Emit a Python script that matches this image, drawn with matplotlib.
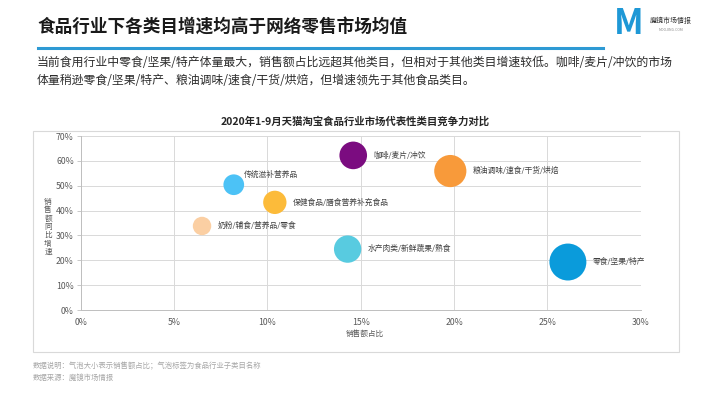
import matplotlib
matplotlib.use('Agg')
from matplotlib import pyplot as plt
from matplotlib.patches import Rectangle
from matplotlib.ticker import FuncFormatter
import numpy as np

plt.rcParams['font.family'] = ['Noto Sans CJK SC', 'DejaVu Sans']

W, H = 710, 399

### Data
categories = ['咖啡/麦片/冲饮', '粮油调味/速食/干货/烘焙', '传统滋补营养品',
              '保健食品/膳食营养补充食品', '奶粉/辅食/营养品/零食',
              '水产肉类/新鲜蔬果/熟食', '零食/坚果/特产']
sales_share = [14.6, 19.8, 8.2, 10.4, 6.5, 14.3, 26.1]      # 销售额占比 (%)
sales_growth = [62.2, 55.9, 50.4, 43.3, 33.8, 24.5, 19.3]   # 销售额同比增速 (%)
x_ticks = [0, 5, 10, 15, 20, 25, 30]
y_ticks = [0, 10, 20, 30, 40, 50, 60, 70]

colors = ['#7B0C80', '#F89A3A', '#4CC2F6', '#FCBB3A', '#FBCFA3', '#58CBE0', '#0A9BDB']
# label nudges in points (dx extra, dy), everything else sits to the right of the bubble
label_nudge = {'传统滋补营养品': (-4.5, 7.0)}

title = '食品行业下各类目增速均高于网络零售市场均值'
para = ['当前食用行业中零食/坚果/特产体量最大，销售额占比远超其他类目，但相对于其他类目增速较低。咖啡/麦片/冲饮的市场',
        '体量稍逊零食/坚果/特产、粮油调味/速食/干货/烘焙，但增速领先于其他食品类目。']
chart_title = '2020年1-9月天猫淘宝食品行业市场代表性类目竞争力对比'
notes = ['数据说明：气泡大小表示销售额占比；气泡标签为食品行业子类目名称',
         '数据来源：魔镜市场情报']


def fx(px):
    return px / W


def fy(py):
    return 1 - py / H


fig = plt.figure(figsize=(W / 100, H / 100), dpi=100)
fig.patch.set_facecolor('white')

### Header
fig.text(fx(37), fy(27), title, fontsize=12.7, fontweight='bold', color='#1A1A1A', va='center')
fig.add_artist(plt.Line2D([fx(38), fx(603)], [fy(48), fy(48)], color='#2E9AD4', lw=2.2))
fig.text(fx(37), fy(62), para[0], fontsize=8.55, color='#2B2B2B', va='center')
fig.text(fx(37), fy(80), para[1], fontsize=8.55, color='#2B2B2B', va='center')

# logo
fig.text(fx(614), fy(24), 'M', fontsize=25, fontweight='bold', color='#1E98D6', va='center')
fig.text(fx(650), fy(21), '魔镜市场情报', fontsize=5, color='#333333', va='center')
fig.text(fx(671), fy(30), 'MOOJING.COM', fontsize=2.5, color='#888888', va='center', ha='center')

### Chart box
fig.add_artist(Rectangle((fx(33), fy(352)), fx(679) - fx(33), fy(131) - fy(352),
                         transform=fig.transFigure, facecolor='white', edgecolor='#D9D9D9', lw=0.8, zorder=0))
fig.text(fx(355), fy(121), chart_title, fontsize=7.5, fontweight='bold', color='#262626',
         ha='center', va='center')

ax = fig.add_axes([fx(80.7), fy(310), fx(640.7) - fx(80.7), fy(136) - fy(310)])
ax.set_facecolor('none')

sizes = [27.1 * v for v in sales_share]
ax.scatter(sales_share, sales_growth, s=sizes, c=colors, edgecolors='none', zorder=3, clip_on=False)

for name, xv, yv, s in zip(categories, sales_share, sales_growth, sizes):
    r = np.sqrt(s) / 2
    ddx, ddy = label_nudge.get(name, (0, 0))
    ax.annotate(name, (xv, yv), xytext=(r + 4.5 + ddx, ddy), textcoords='offset points',
                fontsize=5.6, color='#404040', va='center', ha='left', zorder=4)

ax.set_xlim(0, 30)
ax.set_ylim(0, 70)
ax.set_xticks(x_ticks)
ax.set_yticks(y_ticks)
ax.xaxis.set_major_formatter(FuncFormatter(lambda v, p: f'{v:.0f}%'))
ax.yaxis.set_major_formatter(FuncFormatter(lambda v, p: f'{v:.0f}%'))
ax.grid(True, color='#D9D9D9', lw=0.7, zorder=0)
ax.set_axisbelow(True)
for side in ['top', 'right']:
    ax.spines[side].set_visible(False)
for side in ['left', 'bottom']:
    ax.spines[side].set_color('#BFBFBF')
    ax.spines[side].set_linewidth(0.7)
ax.tick_params(axis='both', labelsize=6.3, colors='#BFBFBF', labelcolor='#595959', length=3, width=0.6)
ax.tick_params(axis='x', length=0, pad=6)
ax.tick_params(axis='y', pad=2)

fig.text(fx(365), fy(334), '销售额占比', fontsize=5.5, color='#595959', ha='center', va='center')
fig.text(fx(48), fy(227), '\n'.join('销售额同比增速'), fontsize=5.5, color='#595959',
         ha='center', va='center', linespacing=1.05)

### Footnotes
fig.text(fx(33), fy(366), notes[0], fontsize=5.3, color='#A6A6A6', va='center')
fig.text(fx(33), fy(378), notes[1], fontsize=5.3, color='#A6A6A6', va='center')

fig.savefig('out.png', dpi=100, facecolor='white')
